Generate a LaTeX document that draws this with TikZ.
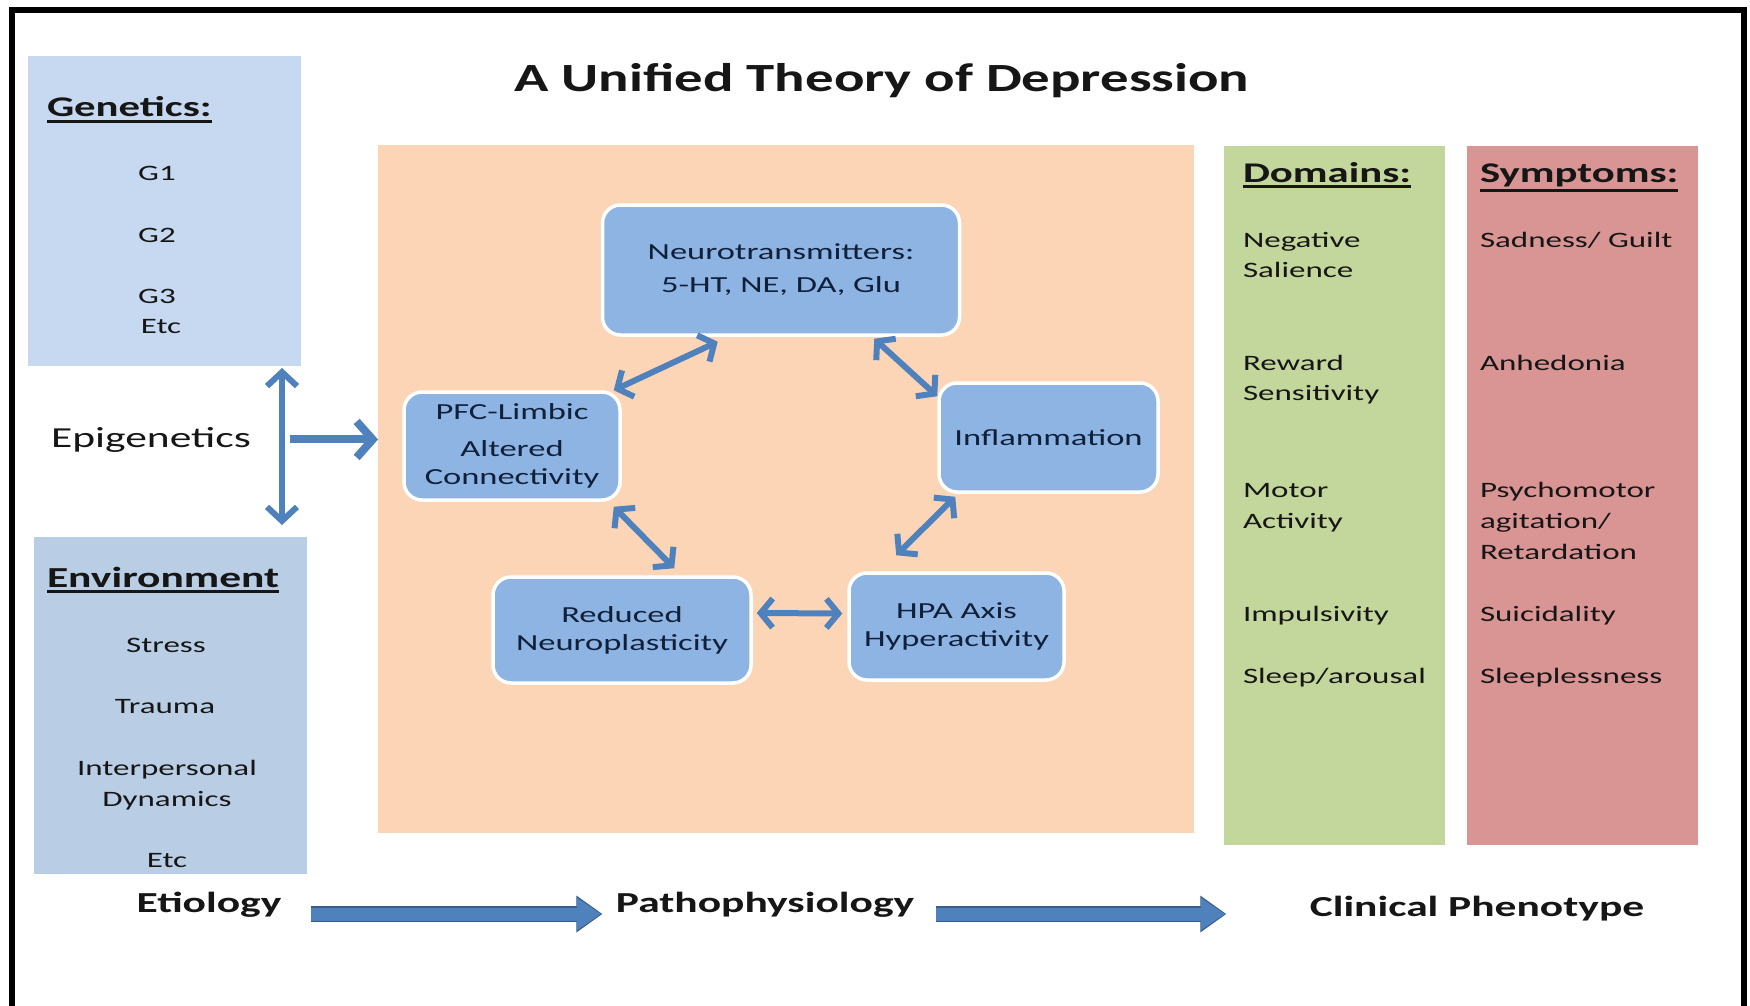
\documentclass[tikz,border=0pt]{standalone}
\usepackage{fontspec}
\setmainfont{Carlito}[FakeStretch=1.5]
\newfontfamily\titlefont{Carlito}[FakeStretch=1.42]
\usetikzlibrary{arrows.meta}

\definecolor{genblue}{HTML}{C6D9F1}
\definecolor{envblue}{HTML}{B9CDE5}
\definecolor{peach}{HTML}{FBD5B5}
\definecolor{boxblue}{HTML}{8DB4E2}
\definecolor{arrowblue}{HTML}{4F81BD}
\definecolor{arrowdark}{HTML}{385D8A}
\definecolor{domgreen}{HTML}{C3D69B}
\definecolor{symred}{HTML}{D99594}
\definecolor{ink}{HTML}{161616}
\definecolor{navyink}{HTML}{10203A}

% underlined heading: rule a little below the baseline
\newcommand{\ulin}[1]{\vtop{\hbox{#1}\kern3pt\hrule height 2.5pt}}

\begin{document}
\begin{tikzpicture}[x=1pt,y=-1pt,
  panel/.style={inner sep=0pt, outer sep=0pt, anchor=north west, draw=none},
  lbl/.style={inner sep=0pt, outer sep=0pt, text=ink},
  head/.style={lbl, anchor=base west, font=\bfseries\fontsize{28.5}{34}\selectfont},
  item/.style={lbl, anchor=base, font=\fontsize{22}{27}\selectfont},
  ditem/.style={lbl, anchor=base west, font=\fontsize{22}{27}\selectfont},
  stage/.style={lbl, anchor=base, font=\bfseries\fontsize{29}{34}\selectfont,
    text height=20pt, text depth=6pt},
  cyclebox/.style={draw=white, line width=3.5pt, fill=boxblue, rounded corners=18pt,
    align=center, font=\fontsize{23}{28}\selectfont, text=navyink, inner sep=0pt},
  cyc/.style={draw=arrowblue, line width=6pt,
    {Straight Barb[length=12pt,width=29pt]}-{Straight Barb[length=12pt,width=29pt]}},
  epiv/.style={draw=arrowblue, line width=6pt,
    {Straight Barb[length=14pt,width=30pt]}-{Straight Barb[length=14pt,width=30pt]}},
  epih/.style={draw=arrowblue, line width=8pt, -{Straight Barb[length=16pt,width=36pt]}},
  blk/.style={draw=arrowblue, line width=13pt, -{Triangle[length=24pt,width=31pt]},
    preaction={draw=arrowdark, line width=16pt, -{Triangle[length=26pt,width=35pt]},
      shorten >=-1.5pt}},
]
\useasboundingbox (0,0) rectangle (1750,1006);
\fill[white] (0,0) rectangle (1750,1006);

% outer frame, open at the bottom
\draw[line width=6pt] (11.5,1012) -- (11.5,10) -- (1743.5,10) -- (1743.5,1012);

% title
\node[lbl, anchor=base] (title) at (882,92)
  {\titlefont\bfseries\fontsize{40}{48}\selectfont A Unified Theory of Depression};

% panels
\node[panel, fill=genblue, minimum width=273pt, minimum height=310pt] (gen) at (28,56) {};
\node[panel, fill=envblue, minimum width=273pt, minimum height=337pt] (env) at (34,537) {};
\node[panel, fill=peach, minimum width=816pt, minimum height=688pt] (core) at (378,145) {};
\node[panel, fill=domgreen, minimum width=221pt, minimum height=699pt] (dom) at (1224,146) {};
\node[panel, fill=symred, minimum width=231pt, minimum height=699pt] (sym) at (1467,146) {};

% genetics
\node[head] (genhead) at (47,117) {\ulin{Genetics:}};
\node[item] (g1) at (157,180) {G1};
\node[item] (g2) at (157,242) {G2};
\node[item] (g3) at (157,303) {G3};
\node[item] (getc) at (161,333) {Etc};

% epigenetics
\node[lbl, anchor=base, font=\fontsize{29}{34}\selectfont] (epi) at (151,447) {Epigenetics};

% environment
\node[head, font=\bfseries\fontsize{29}{34}\selectfont] (envhead) at (47,587) {\ulin{Environment}};
\node[item] (e1) at (166,652) {Stress};
\node[item] (e2) at (165,713) {Trauma};
\node[item] (e3) at (167,775) {Interpersonal};
\node[item] (e4) at (167,806) {Dynamics};
\node[item] (e5) at (167,867) {Etc};

% epigenetic links
\draw[epiv] ([xshift=-19pt,yshift=-2pt]gen.south east) -- ([xshift=-25pt,yshift=12pt]env.north east);
\draw[epih] ([xshift=39pt]epi.east) -- (epi.east -| core.west);

% pathophysiology cycle
\node[cyclebox, minimum width=357pt, minimum height=130pt] (nt) at (781,270)
  {Neurotransmitters:\\[5pt]5-HT, NE, DA, Glu};
\node[cyclebox, minimum width=216pt, minimum height=108pt] (pfc) at (512,446)
  {PFC-Limbic\\[9pt]Altered\\Connectivity};
\node[cyclebox, minimum width=219pt, minimum height=109pt] (infl) at (1048.5,437.5)
  {Inflammation};
\node[cyclebox, minimum width=258pt, minimum height=106pt] (red) at (622,630)
  {Reduced\\Neuroplasticity};
\node[cyclebox, minimum width=215pt, minimum height=107pt] (hpa) at (956.5,626.5)
  {HPA Axis\\Hyperactivity};

\draw[cyc] ([xshift=117pt,yshift=-5pt]nt.south west) -- ([xshift=-8pt]pfc.north east);
\draw[cyc] ([xshift=-87pt,yshift=-2pt]nt.south east) -- ([yshift=-15pt]infl.north west);
\draw[cyc] ([xshift=18pt,yshift=-3pt]infl.south west) -- ([xshift=49pt,yshift=16pt]hpa.north west);
\draw[cyc] ([xshift=-5pt,yshift=13pt]hpa.west) -- ([xshift=4pt,yshift=17pt]red.east);
\draw[cyc] ([xshift=183pt,yshift=7pt]red.north west) -- ([xshift=-8pt,yshift=-5pt]pfc.south east);

% domains
\node[head] (domhead) at (1243,182) {\ulin{Domains:}};
\node[ditem] (d1) at (1243,247) {Negative};
\node[ditem] (d2) at (1243,277) {Salience};
\node[ditem] (d3) at (1243,370) {Reward};
\node[ditem] (d4) at (1243,400) {Sensitivity};
\node[ditem] (d5) at (1243,497) {Motor};
\node[ditem] (d6) at (1243,528) {Activity};
\node[ditem] (d7) at (1243,621) {Impulsivity};
\node[ditem] (d8) at (1243,683) {Sleep/arousal};

% symptoms
\node[head] (symhead) at (1480,182) {\ulin{Symptoms:}};
\node[ditem] (s1) at (1480,247) {Sadness/ Guilt};
\node[ditem] (s2) at (1480,370) {Anhedonia};
\node[ditem] (s3) at (1480,497) {Psychomotor};
\node[ditem] (s4) at (1480,528) {agitation/};
\node[ditem] (s5) at (1480,559) {Retardation};
\node[ditem] (s6) at (1480,621) {Suicidality};
\node[ditem] (s7) at (1480,683) {Sleeplessness};

% stages along the bottom
\node[stage] (etio) at (209,912) {Etiology};
\node[stage] (patho) at (765,912) {Pathophysiology};
\node[stage] (clin) at (1477,916) {Clinical Phenotype};

\draw[blk] ([xshift=30pt,yshift=-9pt]etio.east) -- ([xshift=-15pt,yshift=-9pt]patho.west);
\draw[blk] ([xshift=22pt,yshift=-9pt]patho.east) -- ([xshift=-85pt,yshift=-5pt]clin.west);
\end{tikzpicture}
\end{document}
